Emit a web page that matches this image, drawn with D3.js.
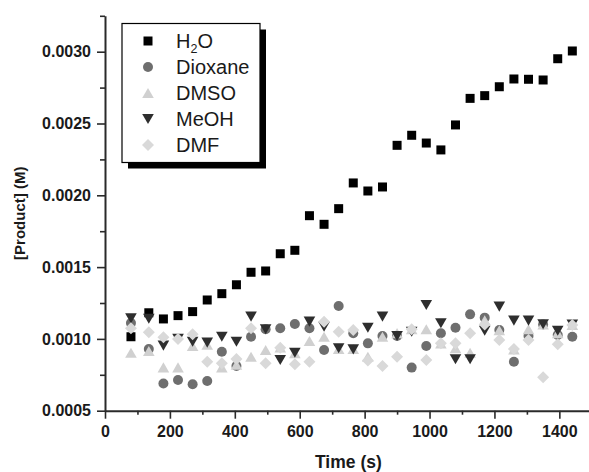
<!DOCTYPE html>
<html>
<head>
<meta charset="utf-8">
<script src="https://cdn.jsdelivr.net/npm/d3@7"></script>
<style>
  html, body { margin: 0; padding: 0; background: #fff; }
  svg { display: block; font-family: "Liberation Sans", Arial, sans-serif; }
</style>
</head>
<body>
<div id="chart"></div>
<script>
// sample times (s)
const times = [80, 135, 180, 225, 270, 315, 360, 405, 450, 495, 540, 585, 630, 675, 720, 765,
  810, 855, 900, 945, 990, 1035, 1080, 1125, 1170, 1215, 1260, 1305, 1350, 1395, 1440];

// [Product] (M) for each solvent
const h2o = [0.001015, 0.001182, 0.001139, 0.001162, 0.00119, 0.001271, 0.001315, 0.001377,
  0.001464, 0.001473, 0.001593, 0.001617, 0.001858, 0.001798, 0.001907, 0.002086, 0.00203,
  0.002058, 0.002348, 0.002418, 0.002364, 0.002316, 0.00249, 0.002675, 0.002694, 0.002756,
  0.00281, 0.002808, 0.002803, 0.002951, 0.003005];
const dioxane = [0.00111, 0.00093, 0.00069, 0.000714, 0.000684, 0.000707, 0.000911, 0.000811,
  0.001015, 0.001067, 0.001074, 0.001104, 0.001074, 0.000923, 0.001229, 0.001039, 0.000969,
  0.00102, 0.00102, 0.0008, 0.000951, 0.001039, 0.001078, 0.001171, 0.001148, 0.001062,
  0.000841, 0.00102, 0.0011, 0.001027, 0.001015];
const dmso = [0.000904, 0.000916, 0.000802, 0.000802, 0.000951, 0.00096, 0.000802, 0.00082,
  0.000876, 0.000923, 0.00094, 0.0009, 0.000985, 0.001015, 0.00093, 0.00093, 0.000876,
  0.001015, 0.00104, 0.001067, 0.001067, 0.000969, 0.000935, 0.000904, 0.00113, 0.00106,
  0.000927, 0.001067, 0.0011, 0.00104, 0.001097];
const meoh = [0.001143, 0.00114, 0.000953, 0.001, 0.00098, 0.000974, 0.001015, 0.00098,
  0.001155, 0.001067, 0.000853, 0.000904, 0.00112, 0.001085, 0.000935, 0.000927, 0.001078,
  0.001155, 0.00102, 0.00105, 0.001236, 0.001109, 0.000858, 0.000858, 0.001057, 0.001225,
  0.001127, 0.001127, 0.001102, 0.001057, 0.0011];
const dmf = [0.001074, 0.001046, 0.001011, 0.001, 0.001032, 0.000841, 0.00083, 0.00086,
  0.001074, 0.00083, 0.000939, 0.000823, 0.000841, 0.00112, 0.00105, 0.001062, 0.00085,
  0.000811, 0.000876, 0.001067, 0.000853, 0.00097, 0.000969, 0.001039, 0.0011, 0.000992,
  0.00093, 0.000992, 0.000733, 0.000962, 0.001097];

const seriesNames = ['H2O', 'Dioxane', 'DMSO', 'MeOH', 'DMF'];
const seriesValues = [h2o, dioxane, dmso, meoh, dmf];

const xTicks = [0, 200, 400, 600, 800, 1000, 1200, 1400];
const xMinor = [100, 300, 500, 700, 900, 1100, 1300, 1500];
const yTicks = [0.0005, 0.0010, 0.0015, 0.0020, 0.0025, 0.0030];
const yMinor = [0.00075, 0.00125, 0.00175, 0.00225, 0.00275, 0.00325];

// marker shapes (size = half width in px)
const shape = {
  square: { draw(c, r) { c.rect(-r, -r, 2 * r, 2 * r); } },
  circle: { draw(c, r) { c.moveTo(r, 0); c.arc(0, 0, r, 0, 2 * Math.PI); } },
  triUp: { draw(c, r) { const h = r * 0.87; c.moveTo(0, -h); c.lineTo(r, h); c.lineTo(-r, h); c.closePath(); } },
  triDown: { draw(c, r) { const h = r * 0.87; c.moveTo(0, h); c.lineTo(r, -h); c.lineTo(-r, -h); c.closePath(); } },
  diamond: { draw(c, r) { c.moveTo(0, -r); c.lineTo(r, 0); c.lineTo(0, r); c.lineTo(-r, 0); c.closePath(); } }
};
const styles = [
  { type: shape.square, size: 4.5, fill: '#000000' },
  { type: shape.circle, size: 5, fill: '#6e6e6e' },
  { type: shape.triUp, size: 5.8, fill: '#d0d0d0' },
  { type: shape.triDown, size: 5.8, fill: '#2e2e2e' },
  { type: shape.diamond, size: 6, fill: '#d9d9d9' }
];

const width = 589, height = 472;
const margin = { top: 15.8, right: -2.8, bottom: 61.3, left: 105 };

const svg = d3.select('#chart').append('svg')
  .attr('width', width)
  .attr('height', height);

const x = d3.scaleLinear().domain([0, 1500]).range([margin.left, width - margin.right]);
const y = d3.scaleLinear().domain([0.0005, 0.00325]).range([height - margin.bottom, margin.top]);

const axisColor = '#2a2a2a';

// minor ticks
svg.append('g')
  .attr('transform', `translate(0,${y(0.0005)})`)
  .call(d3.axisBottom(x).tickValues(xMinor).tickSize(4).tickFormat(''))
  .call(g => g.select('.domain').remove());
svg.append('g')
  .attr('transform', `translate(${x(0)},0)`)
  .call(d3.axisLeft(y).tickValues(yMinor).tickSize(5).tickFormat(''))
  .call(g => g.select('.domain').remove());

// major axes
const xAxis = svg.append('g')
  .attr('transform', `translate(0,${y(0.0005)})`)
  .call(d3.axisBottom(x).tickValues(xTicks).tickSize(8).tickSizeOuter(0).tickPadding(7)
    .tickFormat(d3.format('d')));
const yAxis = svg.append('g')
  .attr('transform', `translate(${x(0)},0)`)
  .call(d3.axisLeft(y).tickValues(yTicks).tickSize(8).tickSizeOuter(0).tickPadding(6)
    .tickFormat(d3.format('.4f')));

svg.selectAll('.tick line').attr('stroke', axisColor).attr('stroke-width', 1.6);
[xAxis, yAxis].forEach(a => {
  a.select('.domain').attr('stroke', axisColor).attr('stroke-width', 2);
  a.selectAll('text')
    .attr('fill', '#1a1a1a')
    .style('font-size', '16px')
    .style('font-weight', 'bold');
});

// axis titles
svg.append('text')
  .attr('x', (x.range()[0] + x.range()[1]) / 2)
  .attr('y', 468)
  .attr('text-anchor', 'middle')
  .style('font-size', '17.5px')
  .style('font-weight', 'bold')
  .attr('fill', '#1a1a1a')
  .text('Time (s)');

svg.append('text')
  .attr('transform', `translate(25,${(y.range()[0] + y.range()[1]) / 2}) rotate(-90)`)
  .attr('text-anchor', 'middle')
  .style('font-size', '15px')
  .style('font-weight', 'bold')
  .attr('fill', '#1a1a1a')
  .text('[Product] (M)');

// points
seriesValues.forEach((vals, i) => {
  const st = styles[i];
  svg.append('g')
    .selectAll('path')
    .data(vals.map((v, j) => ({ t: times[j], v })))
    .join('path')
    .attr('transform', d => `translate(${x(d.t)},${y(d.v)})`)
    .attr('d', d3.symbol().type(st.type).size(st.size))
    .attr('fill', st.fill);
});

// legend
const lg = svg.append('g').attr('transform', 'translate(122,23.5)');
const lgW = 138, lgH = 139;
lg.append('rect')
  .attr('x', 6).attr('y', 6).attr('width', lgW).attr('height', lgH)
  .attr('fill', '#000');
lg.append('rect')
  .attr('width', lgW).attr('height', lgH)
  .attr('fill', '#fff')
  .attr('stroke', '#000')
  .attr('stroke-width', 1.2);

seriesNames.forEach((name, i) => {
  const st = styles[i];
  const row = lg.append('g').attr('transform', `translate(0,${17.5 + i * 26})`);
  row.append('path')
    .attr('transform', 'translate(26,0)')
    .attr('d', d3.symbol().type(st.type).size(st.size))
    .attr('fill', st.fill);
  const t = row.append('text')
    .attr('x', 54)
    .attr('y', 7)
    .style('font-size', '20px')
    .attr('fill', '#1a1a1a');
  if (name === 'H2O') {
    t.append('tspan').text('H');
    t.append('tspan').attr('dy', 5).style('font-size', '12.5px').text('2');
    t.append('tspan').attr('dy', -5).text('O');
  } else {
    t.text(name);
  }
});
</script>
</body>
</html>
